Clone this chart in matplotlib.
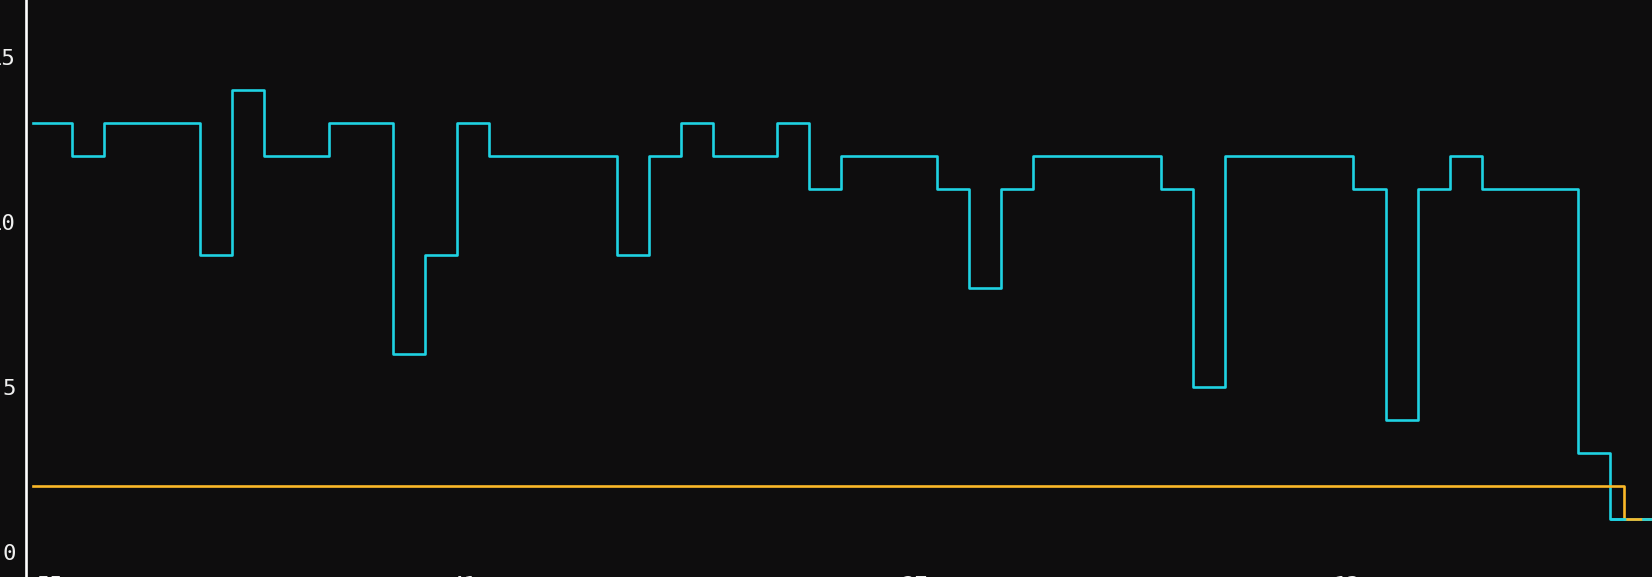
import matplotlib.pyplot as plt

# change points (in sample steps) and the level held from each one
cyan_x = [-1.22, 0, 1, 4, 5, 6, 8, 10, 11, 12, 13, 17, 18, 19, 20, 22, 23, 24,
          27, 28, 29, 30, 34, 35, 36, 40, 41, 42, 43, 44, 47, 48, 50]
cyan_y = [13, 12, 13, 9, 14, 12, 13, 6, 9, 13, 12, 9, 12, 13, 12, 13, 11, 12,
          11, 8, 11, 12, 11, 5, 12, 11, 4, 11, 12, 11, 3, 1, 1]

orange_x = [-1.22, 48.45, 50]
orange_y = [2, 1, 1]

xtick_pos = [-0.70, 12.23, 26.31, 39.8]
xtick_labels = ["55", "41", "27", "13"]
ytick_pos = [0, 5, 10, 15]

bg = "#0e0d0e"
cyan = "#1fd2e2"
W, H = 1652, 577

fig = plt.figure(figsize=(W / 100, H / 100), dpi=100)
fig.patch.set_facecolor(bg)
# axes runs off the top and right of the picture, like the cropped original
ax = fig.add_axes([26 / W, 1 / H, 1 - 26 / W, 1 - 1 / H])
ax.set_facecolor(bg)

ax.plot(cyan_x, cyan_y, drawstyle="steps-post", color=cyan, lw=1.9)
ax.plot(orange_x, orange_y, drawstyle="steps-post", color="#fbb828", lw=1.9)
# where both sit on the same level the two strokes interleave
ax.plot(cyan_x[-2:], cyan_y[-2:], color=cyan, lw=1.9, dashes=(6, 6))

ax.set_xlim(-1.445, 49.32)
ax.set_ylim(-0.727, 16.73)

for s in ["top", "right", "bottom"]:
    ax.spines[s].set_visible(False)
ax.spines["left"].set_color("white")
ax.spines["left"].set_linewidth(1.9)

ax.set_yticks(ytick_pos)
ax.set_xticks(xtick_pos)
ax.set_xticklabels(xtick_labels)
ax.tick_params(axis="both", length=0, colors="#f0f0f0", labelsize=16)
ax.tick_params(axis="y", pad=7.5)
ax.tick_params(axis="x", pad=0)
for lbl in ax.get_xticklabels() + ax.get_yticklabels():
    lbl.set_family("DejaVu Sans Mono")

fig.savefig("out.png", dpi=100, facecolor=bg)
